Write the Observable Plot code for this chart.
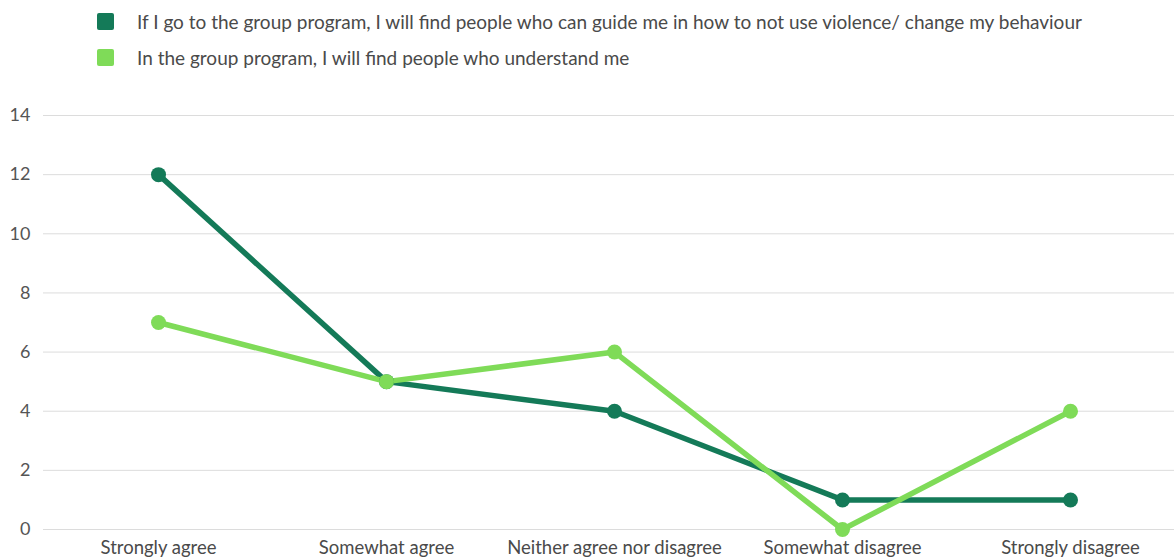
<!DOCTYPE html>
<html>
<head>
<meta charset="utf-8">
<script src="https://cdn.jsdelivr.net/npm/d3@7"></script>
<script src="https://cdn.jsdelivr.net/npm/@observablehq/plot@0.6"></script>
<style>
  html, body { margin: 0; padding: 0; background: #fff; }
  body { width: 1174px; height: 557px; overflow: hidden; font-family: Lato, "Open Sans", sans-serif; }
  .legend { height: 85px; position: relative; color: #4a4a4a; font-size: 19px; }
  .legend .item { position: absolute; left: 97px; display: flex; align-items: center; white-space: nowrap; }
  .legend .sw { width: 17px; height: 17px; border-radius: 2px; margin-right: 23px; }
</style>
</head>
<body>
<div class="legend" id="legend"></div>
<div id="chart"></div>
<script>
const categories = ["Strongly agree", "Somewhat agree", "Neither agree nor disagree", "Somewhat disagree", "Strongly disagree"];
const seriesNames = [
  "If I go to the group program, I will find people who can guide me in how to not use violence/ change my behaviour",
  "In the group program, I will find people who understand me"
];
const guideValues = [12, 5, 4, 1, 1];
const understandValues = [7, 5, 6, 0, 4];
const colors = ["#147a58", "#7fdb58"];
const yTicks = [0, 2, 4, 6, 8, 10, 12, 14];

const data = [
  ...categories.map((c, i) => ({category: c, value: guideValues[i], series: seriesNames[0]})),
  ...categories.map((c, i) => ({category: c, value: understandValues[i], series: seriesNames[1]}))
];

// Legend above the chart
const legend = document.getElementById("legend");
seriesNames.forEach((name, i) => {
  const item = document.createElement("div");
  item.className = "item";
  item.style.top = (i === 0 ? 10 : 46) + "px";
  item.innerHTML = `<span class="sw" style="background:${colors[i]}"></span><span>${name}</span>`;
  legend.appendChild(item);
});

const chart = Plot.plot({
  width: 1174,
  height: 472,
  marginTop: 30,
  marginBottom: 28,
  marginLeft: 43,
  marginRight: 0,
  style: {fontFamily: "Lato, 'Open Sans', sans-serif", fontSize: "18px", color: "#4a4a4a", background: "#fff", overflow: "visible"},
  x: {type: "point", domain: categories, range: [157, 1071], padding: 0, label: null},
  y: {domain: [0, 14], ticks: yTicks, label: null},
  color: {domain: seriesNames, range: colors},
  marks: [
    Plot.gridY(yTicks, {stroke: "#dcdcdc", strokeOpacity: 1, strokeWidth: 1}),
    Plot.axisY(yTicks, {tickSize: 0, tickPadding: 13, fontSize: 18, fill: "#555"}),
    Plot.axisX({tickSize: 0, tickPadding: 11, fontSize: 18.5, fill: "#4a4a4a"}),
    Plot.line(data, {x: "category", y: "value", z: "series", stroke: "series", strokeWidth: 5.5, strokeLinejoin: "round"}),
    Plot.dot(data, {x: "category", y: "value", fill: "series", r: 7.5})
  ]
});
document.getElementById("chart").appendChild(chart);
</script>
</body>
</html>
